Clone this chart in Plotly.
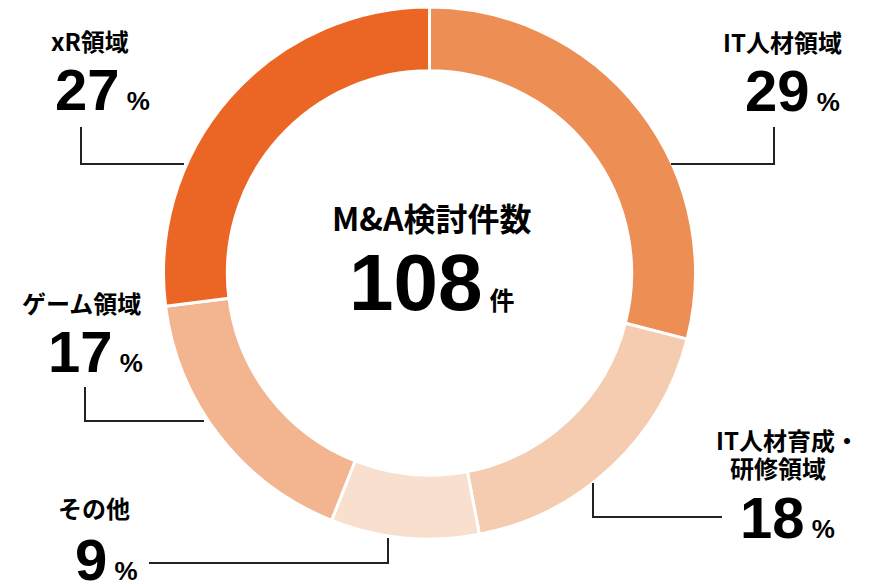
import plotly.graph_objects as go

categories = ["IT人材領域", "IT人材育成・研修領域", "その他", "ゲーム領域", "xR領域"]
shares = [29, 18, 9, 17, 27]
colors = ["#ED8E55", "#F5CCB0", "#F8DFCE", "#F2B590", "#EB6624"]
total_label = "M&A検討件数"
total_value = 108
total_unit = "件"

W, H = 872, 584
cx, cy, r = 429.5, 273, 266


def fx(px):
    return min(1.0, max(0.0, px / W))


def fy(py):
    return min(1.0, max(0.0, 1 - py / H))


fig = go.Figure()
fig.add_trace(go.Pie(
    labels=categories, values=shares, sort=False, direction="clockwise", rotation=0,
    hole=0.76, marker=dict(colors=colors, line=dict(color="white", width=3)),
    textinfo="none", hoverinfo="skip", showlegend=False,
    domain=dict(x=[fx(cx - r), fx(cx + r)], y=[fy(cy + r), fy(cy - r)]),
))

FONT = "Liberation Sans, Arial, 'Noto Sans CJK JP', sans-serif"
CJK = "'Noto Sans CJK JP', sans-serif"

ann = []


def add(text, x, y, size, family=FONT):
    ann.append(dict(text=text, x=x, y=y, xref="x", yref="y", showarrow=False,
                    xanchor="center", yanchor="middle",
                    font=dict(size=size, family=family, color="#000")))


def pct(v):
    return f"<b>{v}</b><span style='font-size:26px'><b>&nbsp;%</b></span>"


label_pos = {
    "IT人材領域": ((782, 41), (792, 90)),
    "xR領域": ((90, 40), (102, 89)),
    "ゲーム領域": ((81, 302), (95, 351)),
    "その他": ((94, 507), (106, 559)),
}
for cat, v in zip(categories, shares):
    if cat == "IT人材育成・研修領域":
        add("<b>IT人材育成・</b>", 787, 439, 24, CJK)
        add("<b>研修領域</b>", 778, 467, 24, CJK)
        add(pct(v), 787, 517, 58)
    else:
        (tx, ty), (nx, ny) = label_pos[cat]
        add(f"<b>{cat}</b>", tx, ty, 24, CJK)
        add(pct(v), nx, ny, 58)

add(f"<b>{total_label}</b>", 432, 217, 32, CJK)
add(f"<b>{total_value}</b><span style='font-size:25px'><b>&nbsp;{total_unit}</b></span>",
    431, 282, 80)

paths = [
    "M 81 127 L 81 164 L 184 164",
    "M 774 127 L 774 164 L 671 164",
    "M 85 387 L 85 421 L 204 421",
    "M 593 483 L 593 517 L 722 517",
    "M 149 563 L 388 563 L 388 538",
]
shapes = [dict(type="path", path=p, xref="x", yref="y",
               line=dict(color="#222", width=2)) for p in paths]

fig.update_layout(
    width=W, height=H, margin=dict(l=0, r=0, t=0, b=0),
    paper_bgcolor="white", plot_bgcolor="rgba(0,0,0,0)",
    xaxis=dict(range=[0, W], visible=False, fixedrange=True),
    yaxis=dict(range=[H, 0], visible=False, fixedrange=True),
    annotations=ann, shapes=shapes,
)
fig.write_html("out.html", config={"displayModeBar": False, "staticPlot": True},
               post_script="document.body.style.margin='0';document.body.style.overflow='hidden';")
